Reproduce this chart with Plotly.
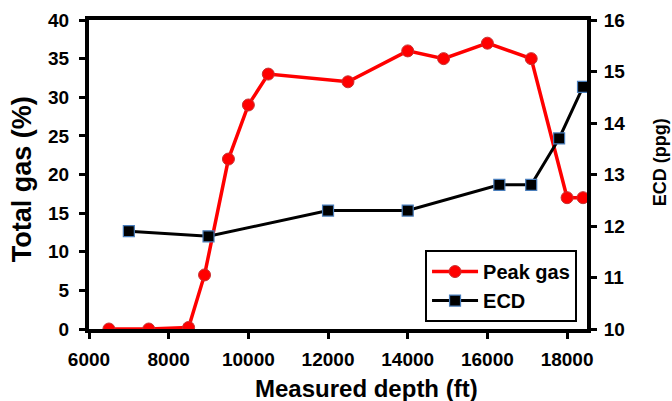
import plotly.graph_objects as go

# Peak gas readings along the well
gas_depth_ft = [6500, 7500, 8500, 8900, 9500, 10000, 10500, 12500, 14000, 14900, 16000, 17100, 18000, 18400]
peak_gas_pct = [0, 0, 0.2, 7, 22, 29, 33, 32, 36, 35, 37, 35, 17, 17]

# Equivalent circulating density
ecd_depth_ft = [7000, 9000, 12000, 14000, 16300, 17100, 17800, 18400]
ecd_ppg = [11.9, 11.8, 12.3, 12.3, 12.8, 12.8, 13.7, 14.7]

x_ticks = [6000, 8000, 10000, 12000, 14000, 16000, 18000]
x_tick_labels = ["6000", "8000", "10000", "12000", "14000", "16000", "18000"]
gas_ticks = [0, 5, 10, 15, 20, 25, 30, 35, 40]
ecd_ticks = [10, 11, 12, 13, 14, 15, 16]

FONT = "Liberation Sans, Arial, sans-serif"

fig = go.Figure()

fig.add_trace(go.Scatter(
    x=gas_depth_ft, y=peak_gas_pct, name="Peak gas",
    mode="lines+markers",
    line=dict(color="#ff0000", width=3.5),
    marker=dict(symbol="circle", size=12, color="#ff0000",
                line=dict(color="#c83232", width=1)),
    yaxis="y",
))

fig.add_trace(go.Scatter(
    x=ecd_depth_ft, y=ecd_ppg, name="ECD",
    mode="lines+markers",
    line=dict(color="#000000", width=3),
    marker=dict(symbol="square", size=11, color="#000000",
                line=dict(color="#4a7ebb", width=1.2)),
    yaxis="y2",
))

tick_font = dict(family=FONT, size=19, color="#000000", weight="bold")
title_font = dict(family=FONT, color="#000000", weight="bold")

axis_common = dict(
    showgrid=False, zeroline=False, automargin=False,
    showline=True, linecolor="#000000", linewidth=4,
    ticks="outside", ticklen=6, tickwidth=3, tickcolor="#000000",
    tickfont=tick_font,
)

fig.update_layout(
    width=672, height=401,
    margin=dict(l=89, r=85, t=20, b=72),
    paper_bgcolor="white", plot_bgcolor="white",
    showlegend=True,
    legend=dict(
        x=0.98, xanchor="right", y=0.139, yanchor="middle",
        bgcolor="white", bordercolor="#000000", borderwidth=2,
        font=dict(family=FONT, size=20, color="#000000", weight="bold"),
        tracegroupgap=0, itemwidth=46,
    ),
    xaxis=dict(
        range=[6000, 18500], tickvals=x_ticks, ticktext=x_tick_labels,
        mirror=True, ticklabelstandoff=4, **axis_common,
    ),
    yaxis=dict(
        range=[0, 40], tickvals=gas_ticks, ticklabelstandoff=6, **axis_common,
    ),
    yaxis2=dict(
        range=[10, 16], tickvals=ecd_ticks, ticklabelstandoff=3,
        overlaying="y", side="right", **axis_common,
    ),
)

# Axis titles placed relative to the plotting area
fig.add_annotation(text="Measured depth (ft)", xref="paper", yref="paper",
                   x=0.557, y=-0.191, xanchor="center", yanchor="middle",
                   showarrow=False, font=dict(size=24, **title_font))
fig.add_annotation(text="Total gas (%)", xref="paper", yref="paper",
                   x=-0.1345, y=0.485, xanchor="center", yanchor="middle",
                   textangle=-90, showarrow=False, font=dict(size=27, **title_font))
fig.add_annotation(text="ECD (ppg)", xref="paper", yref="paper",
                   x=1.1466, y=0.540, xanchor="center", yanchor="middle",
                   textangle=-90, showarrow=False, font=dict(size=18, **title_font))

fig.write_html("out.html")
